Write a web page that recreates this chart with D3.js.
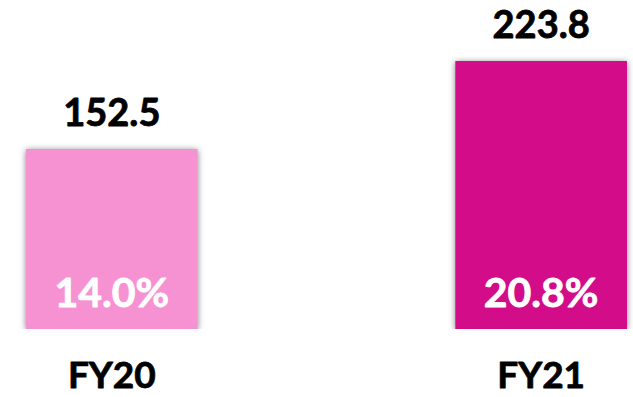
<!DOCTYPE html>
<html>
<head>
<meta charset="utf-8">
<script src="https://cdn.jsdelivr.net/npm/d3@7"></script>
<style>
  html, body { margin: 0; padding: 0; background: #ffffff; }
  svg { display: block; }
  text { font-family: Lato, "Open Sans", sans-serif; font-weight: 700; stroke-linejoin: round; }
</style>
</head>
<body>
<svg id="chart" width="633" height="397"></svg>
<script>
// Fiscal years and their values
const categories = ["FY20", "FY21"];
const values = [152.5, 223.8];
const margins = ["14.0%", "20.8%"];
const barColors = ["#f792d2", "#d30b8a"];

const svg = d3.select("#chart");

const x = d3.scaleBand()
  .domain(categories)
  .range([26, 627])
  .paddingInner(0.6)
  .paddingOuter(0);

const y = d3.scaleLinear()
  .domain([6.7, 223.8])
  .range([329, 61]);

// soft shadow behind each bar
const defs = svg.append("defs");
const f = defs.append("filter").attr("id", "shadow")
  .attr("x", "-20%").attr("y", "-20%").attr("width", "140%").attr("height", "140%");
f.append("feDropShadow")
  .attr("dx", 0).attr("dy", 1)
  .attr("stdDeviation", 3)
  .attr("flood-color", "#000").attr("flood-opacity", 0.5);

// clip so the shadow does not spill below the baseline
defs.append("clipPath").attr("id", "base")
  .append("rect").attr("x", 0).attr("y", 0).attr("width", 633).attr("height", y.range()[0]);

const data = categories.map((c, i) => ({ c, v: values[i], m: margins[i], col: barColors[i] }));

svg.append("g").attr("clip-path", "url(#base)")
  .selectAll("rect")
  .data(data)
  .join("rect")
  .attr("x", d => x(d.c))
  .attr("width", x.bandwidth())
  .attr("y", d => y(d.v))
  .attr("height", d => y.range()[0] - y(d.v))
  .attr("fill", d => d.col)
  .attr("filter", "url(#shadow)");

// value labels above bars
svg.selectAll(".val")
  .data(data)
  .join("text")
  .attr("class", "val")
  .attr("x", d => x(d.c) + x.bandwidth() / 2)
  .attr("y", d => y(d.v) - 23)
  .attr("text-anchor", "middle")
  .attr("font-size", 38)
  .attr("fill", "#000")
  .attr("stroke", "#000")
  .attr("stroke-width", 0.8)
  .text(d => d.v.toFixed(1));

// margin labels inside bars
svg.selectAll(".pct")
  .data(data)
  .join("text")
  .attr("class", "pct")
  .attr("x", d => x(d.c) + x.bandwidth() / 2)
  .attr("y", y.range()[0] - 22)
  .attr("text-anchor", "middle")
  .attr("font-size", 41)
  .attr("fill", "#ffffff")
  .attr("stroke", "#ffffff")
  .attr("stroke-width", 0.8)
  .text(d => d.m);

// category axis labels
svg.selectAll(".cat")
  .data(data)
  .join("text")
  .attr("class", "cat")
  .attr("x", d => x(d.c) + x.bandwidth() / 2)
  .attr("y", 388)
  .attr("text-anchor", "middle")
  .attr("font-size", 37)
  .attr("fill", "#000")
  .attr("stroke", "#000")
  .attr("stroke-width", 0.8)
  .text(d => d.c);
</script>
</body>
</html>
